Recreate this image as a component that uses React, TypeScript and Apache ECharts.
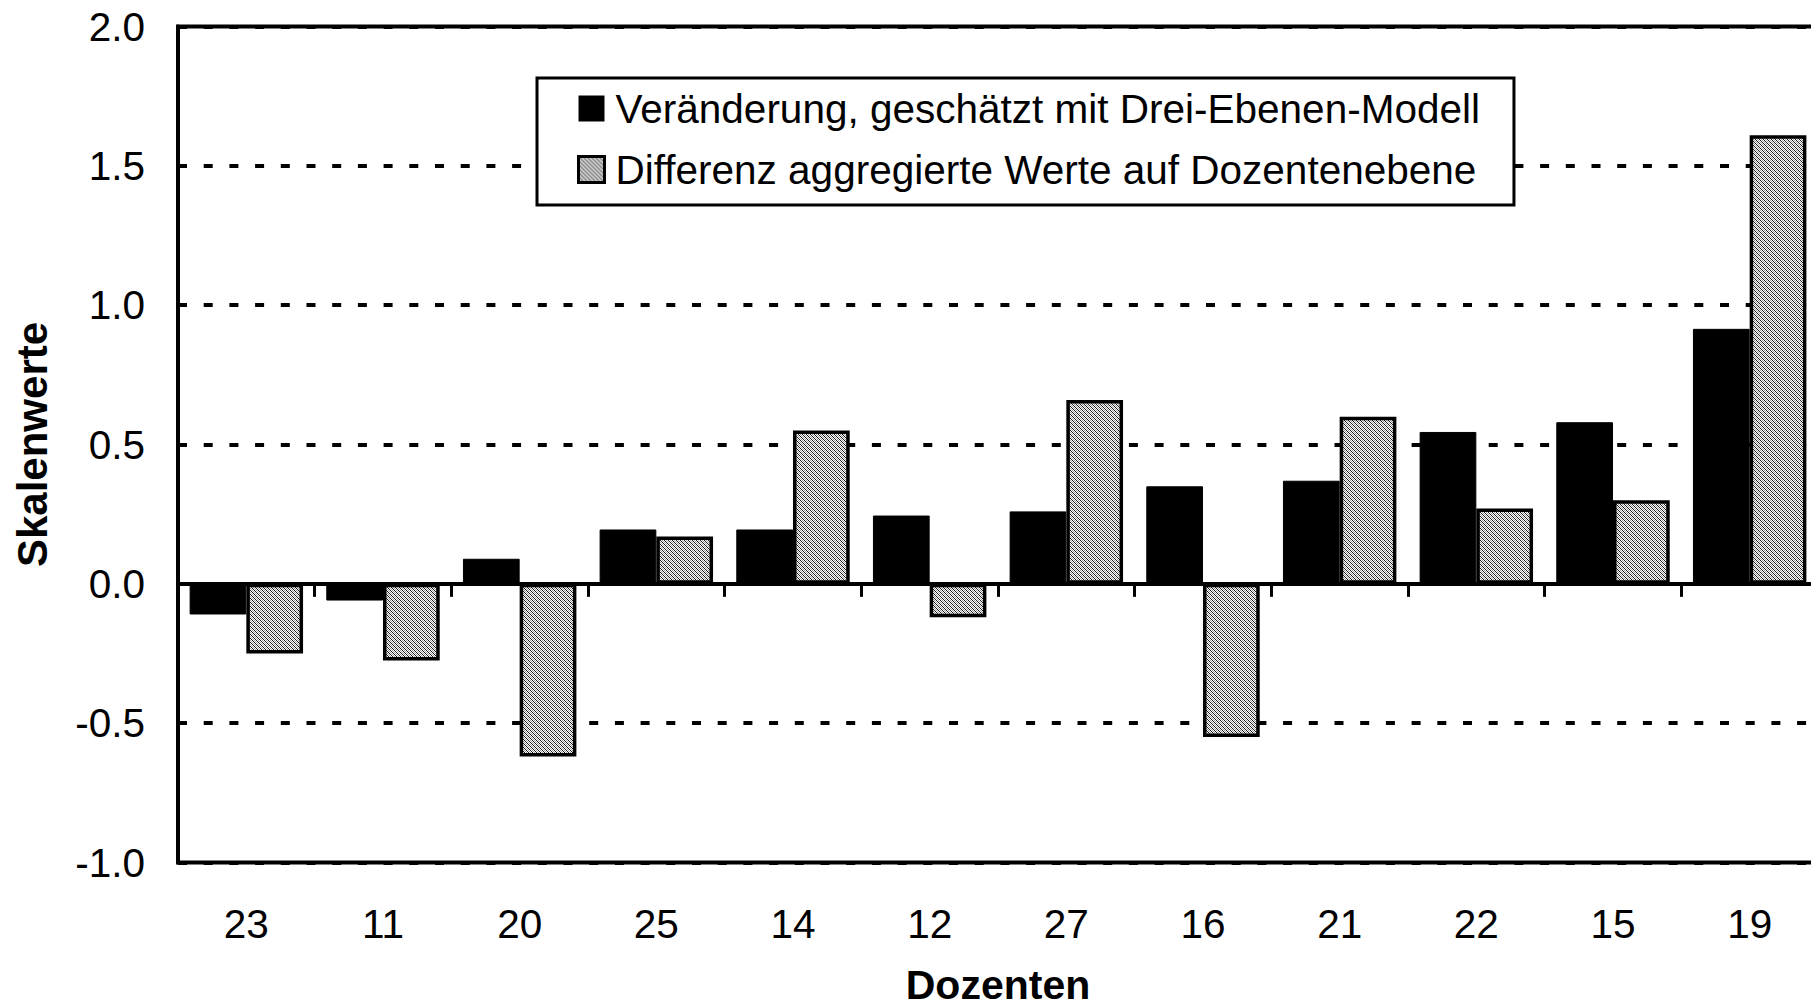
import React, { useEffect, useRef } from "react";
import * as echarts from "echarts";

const categories = ["23", "11", "20", "25", "14", "12", "27", "16", "21", "22", "15", "19"];
const seriesNames = [
  "Veränderung, geschätzt mit Drei-Ebenen-Modell",
  "Differenz aggregierte Werte auf Dozentenebene",
];
const veraenderung = [-0.11, -0.06, 0.09, 0.195, 0.195, 0.245, 0.26, 0.35, 0.37, 0.545, 0.58, 0.915];
const differenz = [-0.25, -0.275, -0.62, 0.17, 0.55, -0.12, 0.66, -0.55, 0.6, 0.27, 0.3, 1.61];
const yMin = -1;
const yMax = 2;
const yInterval = 0.5;
const xTitle = "Dozenten";
const yTitle = "Skalenwerte";

const FONT = "'Liberation Sans', Arial, sans-serif";

function makeHatch(): HTMLCanvasElement {
  const c = document.createElement("canvas");
  c.width = 4;
  c.height = 4;
  const ctx = c.getContext("2d")!;
  for (let y = 0; y < 4; y++) {
    for (let x = 0; x < 4; x++) {
      let col = "#ffffff";
      if ((x + y) % 2 === 0) {
        col = (x - y + 4) % 4 === 0 ? "#1a1a1a" : "#9a9a9a";
      }
      ctx.fillStyle = col;
      ctx.fillRect(x, y, 1, 1);
    }
  }
  return c;
}

export default function App() {
  const ref = useRef<HTMLDivElement>(null);
  useEffect(() => {
    if (!ref.current) return;
    const chart = echarts.init(ref.current, undefined, { renderer: "svg" });
    const hatch = { image: makeHatch(), repeat: "repeat" };
    chart.setOption({
      animation: false,
      backgroundColor: "#ffffff",
      textStyle: { fontFamily: FONT, color: "#000" },
      grid: {
        left: 178,
        top: 26.5,
        bottom: 144.5,
        width: 1640,
        containLabel: false,
        outerBoundsMode: "none",
        show: true,
        borderColor: "#000",
        borderWidth: 4,
        backgroundColor: "transparent",
      },
      legend: {
        orient: "vertical",
        left: 537,
        top: 78,
        itemWidth: 26,
        itemHeight: 26,
        itemGap: 20,
        padding: [10, 34, 15, 40],
        borderColor: "#000",
        borderWidth: 3,
        backgroundColor: "#fff",
        borderRadius: 0,
        textStyle: {
          fontFamily: FONT,
          fontSize: 40.5,
          color: "#000",
          lineHeight: 40,
          padding: [0, 0, 0, 6],
        },
        data: [
          { name: seriesNames[0], icon: "rect", itemStyle: { color: "#000", borderWidth: 0 } },
          { name: seriesNames[1], icon: "rect", itemStyle: { color: hatch, borderColor: "#000", borderWidth: 3 } },
        ],
      },
      xAxis: [
        {
          type: "category",
          data: categories,
          position: "top",
          axisLine: { show: true, onZero: true, lineStyle: { color: "#000", width: 4 } },
          axisTick: { show: true, inside: true, length: 13, lineStyle: { color: "#000", width: 3 } },
          axisLabel: { show: false },
          splitLine: { show: false },
        },
        {
          type: "category",
          data: categories,
          position: "bottom",
          axisLine: { show: false, onZero: false },
          axisTick: { show: false },
          axisLabel: { show: true, fontSize: 40.5, fontFamily: FONT, color: "#000", margin: 41 },
          name: xTitle,
          nameLocation: "middle",
          nameGap: 102,
          nameTextStyle: { fontSize: 41, fontWeight: "bold", fontFamily: FONT, color: "#000", lineHeight: 40 },
        },
      ],
      yAxis: {
        type: "value",
        min: yMin,
        max: yMax,
        interval: yInterval,
        axisLine: { show: true, lineStyle: { color: "#000", width: 4 } },
        axisTick: { show: false },
        axisLabel: {
          fontSize: 40.5,
          fontFamily: FONT,
          color: "#000",
          margin: 33,
          formatter: (v: number) => v.toFixed(1),
        },
        splitLine: { show: true, lineStyle: { color: "#000", width: 4, type: [9, 16.7] } },
        name: yTitle,
        nameLocation: "middle",
        nameGap: 125,
        nameRotate: 90,
        nameTextStyle: { fontSize: 42, fontWeight: "bold", fontFamily: FONT, color: "#000" },
      },
      series: [
        {
          name: seriesNames[0],
          type: "bar",
          data: veraenderung,
          barGap: "0%",
          barCategoryGap: "17%",
          itemStyle: { color: "#000", borderColor: "#000", borderWidth: 1 },
        },
        {
          name: seriesNames[1],
          type: "bar",
          data: differenz,
          barGap: "0%",
          barCategoryGap: "17%",
          itemStyle: { color: hatch, borderColor: "#000", borderWidth: 3.5 },
        },
      ],
    });
    return () => chart.dispose();
  }, []);
  return (
    <div
      ref={ref}
      style={{ position: "fixed", left: 0, top: 0, width: 1811, height: 1007, background: "#fff" }}
    />
  );
}
